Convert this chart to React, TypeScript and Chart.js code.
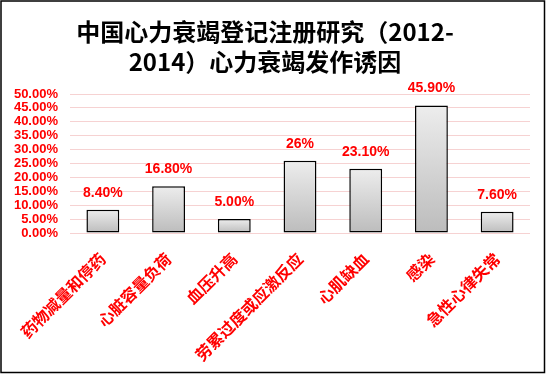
import React, { useEffect, useRef } from "react";
import { Chart, registerables } from "chart.js";

Chart.register(...registerables);

const titleLines = ["中国心力衰竭登记注册研究（2012-", "2014）心力衰竭发作诱因"];
const categories = ["药物减量和停药", "心脏容量负荷", "血压升高", "劳累过度或应激反应", "心肌缺血", "感染", "急性心律失常"];
const values = [8.4, 16.8, 5.0, 26, 23.1, 45.9, 7.6];
const valueLabels = ["8.40%", "16.80%", "5.00%", "26%", "23.10%", "45.90%", "7.60%"];
const yMin = 0;
const yMax = 50;
const yStep = 5;

const W = 546;
const H = 374;

const valueLabelPlugin = {
  id: "valueLabels",
  afterDatasetsDraw(chart: any) {
    const ctx = chart.ctx;
    const meta = chart.getDatasetMeta(0);
    ctx.save();
    ctx.fillStyle = "#ff0000";
    ctx.font = "bold 14px 'Liberation Sans', Arial, sans-serif";
    ctx.textAlign = "center";
    ctx.textBaseline = "middle";
    meta.data.forEach((el: any, i: number) => {
      ctx.fillText(valueLabels[i], el.x, el.y - 17);
    });
    ctx.restore();
  },
};

const borderPlugin = {
  id: "outerBorder",
  afterDraw(chart: any) {
    const ctx = chart.ctx;
    ctx.save();
    ctx.strokeStyle = "#000000";
    ctx.lineWidth = 1.5;
    ctx.strokeRect(1, 1, W - 2.5, H - 2.5);
    ctx.restore();
  },
};

export default function App() {
  const canvasRef = useRef<HTMLCanvasElement>(null);

  useEffect(() => {
    if (!canvasRef.current) return;
    const chart = new Chart(canvasRef.current, {
      type: "bar",
      data: {
        labels: categories,
        datasets: [
          {
            data: values,
            backgroundColor: (c: any) => {
              const ch = c.chart;
              if (!ch.chartArea || c.type !== "data") return "#d8d8d8";
              const ys = ch.scales.y;
              const top = ys.getPixelForValue(c.raw);
              const bottom = ys.getPixelForValue(0);
              if (!isFinite(top) || !isFinite(bottom) || top === bottom) return "#d8d8d8";
              const g = ch.ctx.createLinearGradient(0, top, 0, bottom);
              g.addColorStop(0, "#ededed");
              g.addColorStop(1, "#bcbcbc");
              return g;
            },
            borderColor: "#000000",
            borderWidth: 1.5,
            borderSkipped: false,
            barPercentage: 0.5,
            categoryPercentage: 1,
          },
        ],
      },
      options: {
        responsive: false,
        animation: false,
        devicePixelRatio: 1,
        layout: { padding: { left: 0, right: 16, top: 0, bottom: 0 } },
        plugins: {
          legend: { display: false },
          tooltip: { enabled: false },
          title: {
            display: true,
            text: titleLines,
            color: "#000000",
            font: { family: "'Noto Sans CJK SC', sans-serif", size: 24, weight: "bold", lineHeight: 1.25 },
            padding: { top: 17, bottom: 17 },
          },
        },
        scales: {
          x: {
            grid: { display: false, drawTicks: false },
            border: { display: false },
            ticks: {
              color: "#ff0000",
              autoSkip: false,
              maxRotation: 45,
              minRotation: 45,
              padding: 16,
              font: { family: "'Noto Sans CJK SC', sans-serif", size: 16, weight: "bold" },
            },
            afterFit: (s: any) => {
              s.height = H - 233;
            },
          },
          y: {
            min: yMin,
            max: yMax,
            grid: { color: "#f6d2d2", lineWidth: 1, drawTicks: false },
            border: { display: false },
            ticks: {
              stepSize: yStep,
              autoSkip: false,
              color: "#ff0000",
              padding: 12,
              font: { family: "'Liberation Sans', Arial, sans-serif", size: 13, weight: "bold" },
              callback: (v: any) => Number(v).toFixed(2) + "%",
            },
            afterFit: (s: any) => {
              s.width = 70;
            },
          },
        },
      },
      plugins: [valueLabelPlugin, borderPlugin],
    });
    return () => chart.destroy();
  }, []);

  return (
    <div style={{ position: "absolute", left: 0, top: 0, width: W, height: H, background: "#ffffff" }}>
      <canvas ref={canvasRef} width={W} height={H} style={{ display: "block" }} />
    </div>
  );
}
